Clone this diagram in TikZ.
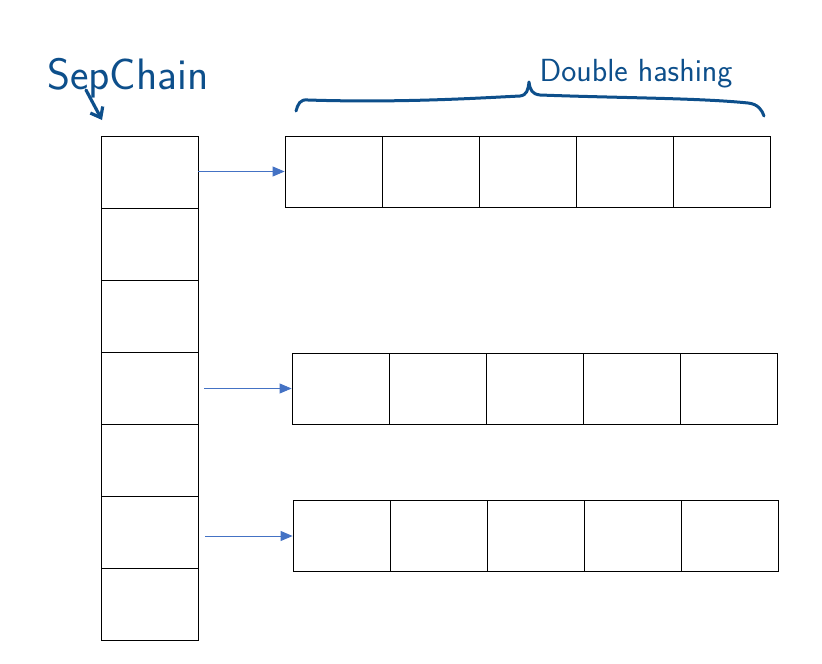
\documentclass[tikz,border=0pt]{standalone}
\usepackage{tikz}
\usetikzlibrary{arrows.meta}

\definecolor{inkblue}{HTML}{0D4F8B}
\definecolor{linkblue}{HTML}{4472C4}

\tikzset{
  cell/.style={draw=black, line width=0.8pt, minimum width=97pt, minimum height=72pt, inner sep=0pt},
  link/.style={draw=linkblue, line width=0.9pt, -{Triangle[width=10pt,length=12pt]}},
  ink/.style={draw=inkblue, line width=3.2pt, line cap=round, line join=round},
  note/.style={text=inkblue, font=\sffamily\fontsize{44}{50}\selectfont, inner sep=0pt}
}

\begin{document}
\begin{tikzpicture}[x=1pt, y=-1pt]
    \useasboundingbox (0,0) rectangle (822,664);

    % separate chaining column
    \foreach \i in {1,...,7}
        \node[cell] (s\i) at (149.5, 136+72*\i-36) {};

    % double hashing rows
    \foreach \j in {1,...,5} {
        \node[cell, minimum height=71pt] (a\j) at (285+97*\j-48.5, 171.5) {};
        \node[cell, minimum height=71pt] (b\j) at (292+97*\j-48.5, 388.5) {};
        \node[cell, minimum height=71pt] (c\j) at (293+97*\j-48.5, 536) {};
    }

    \draw[link] (s1.east |- a1.west) -- (a1.west);
    \draw[link, shorten <=6pt] (s4.east |- b1.west) -- (b1.west);
    \draw[link, shorten <=7pt] (s6.east |- c1.west) -- (c1.west);

    % handwritten notes
    \node[note] (sep) at (128,78) {SepChain};
    \coordinate (septip) at (102,120);
    \draw[ink, -{Straight Barb[length=9pt,width=14pt]}] (86,90) -- (septip);

    \node[note, font=\sffamily\fontsize{32}{36}\selectfont] (dbl) at (636,74) {Double hashing};
    \draw[ink, line width=3pt] (296,111) .. controls (298,104) and (300,99) .. (308,100)
        .. controls (400,103) and (480,98) .. (520,96)
        .. controls (527,95) and (528,90) .. (529,82)
        .. controls (530,90) and (532,94) .. (540,95)
        .. controls (620,98) and (700,98) .. (748,103)
        .. controls (758,104) and (762,110) .. (764,116);
\end{tikzpicture}
\end{document}
